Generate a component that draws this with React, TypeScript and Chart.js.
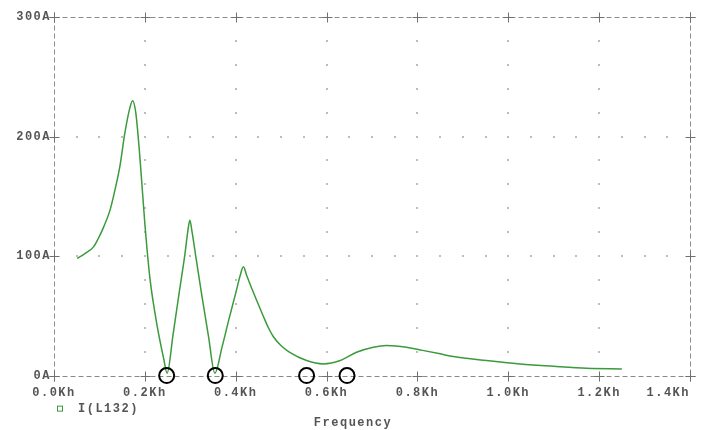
import React, { useEffect, useRef } from 'react';
import { Chart, registerables } from 'chart.js';

Chart.register(...registerables);

// ---- data ----
const freqKHz = [
  0.051, 0.068, 0.087, 0.0975, 0.109, 0.123, 0.134, 0.145, 0.156, 0.167, 0.173, 0.18, 0.189,
  0.2, 0.211, 0.226, 0.241, 0.249, 0.262, 0.275, 0.288, 0.295, 0.299, 0.304, 0.312,
  0.325, 0.34, 0.354, 0.37, 0.385, 0.4, 0.41, 0.417, 0.424, 0.431, 0.446, 0.461,
  0.472, 0.483, 0.5, 0.519, 0.556, 0.593, 0.63, 0.666, 0.703, 0.732, 0.776, 0.806,
  0.85, 0.879, 0.952, 1.026, 1.099, 1.173, 1.25,
];
const currentA = [
  98, 102, 107.7, 114.7, 124, 138, 155, 175, 203, 224, 230, 220, 183,
  127, 82, 44, 15, 2, 34, 68, 101, 122, 130, 120, 100,
  68, 33, 2, 24, 47, 69, 84, 91, 84, 77, 63, 49.5,
  40, 32.5, 25, 19.5, 12.6, 9.8, 12.6, 19.5, 23.7, 25.1, 23.7, 21.5,
  18.2, 15.9, 12.6, 9.8, 7.8, 6.1, 5.6,
];
const circleFreqKHz = [0.248, 0.355, 0.556, 0.645];
const circleCurrentA = [0, 0, 0, 0];
const xTickValues = [0, 0.2, 0.4, 0.6, 0.8, 1.0, 1.2, 1.4];
const yTickValues = [0, 100, 200, 300];
const seriesLabel = 'I(L132)';
const xTitle = 'Frequency';

const LINE_COLOR = '#3b9a3b';
const TEXT_COLOR = '#555555';
const FONT = { family: '"Liberation Mono", "DejaVu Sans Mono", monospace', size: 12, weight: 'bold' as const, lineHeight: 1.2 };

const framePlugin = {
  id: 'pspiceFrame',
  beforeDraw(chart: any) {
    chart.ctx.letterSpacing = '1.5px';
  },
  beforeDatasetsDraw(chart: any) {
    const { ctx, chartArea: a, scales } = chart;
    const xs = scales.x;
    const ys = scales.y;
    ctx.save();
    // dotted interior grid
    ctx.fillStyle = '#bdbdbd';
    const xStep = (xTickValues[1] - xTickValues[0]) / 4;
    const yStep = (yTickValues[1] - yTickValues[0]) / 5;
    for (let i = 1; i < xTickValues.length - 1; i++) {
      const px = Math.round(xs.getPixelForValue(xTickValues[i]));
      for (let v = yTickValues[0] + yStep; v < yTickValues[yTickValues.length - 1] - 1e-9; v += yStep) {
        const py = Math.round(ys.getPixelForValue(v));
        ctx.fillRect(px - 1, py - 1, 2, 2);
      }
    }
    for (let j = 1; j < yTickValues.length - 1; j++) {
      const py = Math.round(ys.getPixelForValue(yTickValues[j]));
      for (let v = xTickValues[0] + xStep; v < xTickValues[xTickValues.length - 1] - 1e-9; v += xStep) {
        const px = Math.round(xs.getPixelForValue(v));
        ctx.fillRect(px - 1, py - 1, 2, 2);
      }
    }
    // dashed frame
    const L = Math.round(a.left) + 0.5;
    const R = Math.round(a.right) + 0.5;
    const T = Math.round(a.top) + 0.5;
    const B = Math.round(a.bottom) + 0.5;
    ctx.strokeStyle = '#8a8a8a';
    ctx.lineWidth = 1;
    ctx.setLineDash([5, 3]);
    ctx.beginPath();
    ctx.moveTo(L, T); ctx.lineTo(R, T);
    ctx.moveTo(L, B); ctx.lineTo(R, B);
    ctx.moveTo(L, T); ctx.lineTo(L, B);
    ctx.moveTo(R, T); ctx.lineTo(R, B);
    ctx.stroke();
    // tick crosses
    ctx.setLineDash([]);
    ctx.strokeStyle = '#707070';
    const arm = 5;
    ctx.beginPath();
    const cross = (x: number, y: number) => {
      ctx.moveTo(x - arm, y); ctx.lineTo(x + arm, y);
      ctx.moveTo(x, y - arm); ctx.lineTo(x, y + arm);
    };
    xTickValues.forEach((v) => {
      const px = Math.round(xs.getPixelForValue(v)) + 0.5;
      cross(px, T); cross(px, B);
    });
    yTickValues.forEach((v) => {
      const py = Math.round(ys.getPixelForValue(v)) + 0.5;
      cross(L, py); cross(R, py);
    });
    ctx.stroke();
    ctx.restore();
  },
};

export default function App() {
  const canvasRef = useRef<HTMLCanvasElement | null>(null);

  useEffect(() => {
    const canvas = canvasRef.current;
    if (!canvas) return;

    const icon = document.createElement('canvas');
    icon.width = 18;
    icon.height = 10;
    const ic = icon.getContext('2d')!;
    ic.strokeStyle = LINE_COLOR;
    ic.lineWidth = 1;
    ic.strokeRect(3.5, 2.5, 5, 5);

    const lineData = freqKHz.map((f, i) => ({ x: f, y: currentA[i] }));
    const circleData = circleFreqKHz.map((f, i) => ({ x: f, y: circleCurrentA[i] }));

    const chart = new Chart(canvas, {
      type: 'line',
      data: {
        datasets: [
          {
            label: seriesLabel,
            data: lineData,
            borderColor: LINE_COLOR,
            borderWidth: 1.5,
            pointRadius: 0,
            fill: false,
            cubicInterpolationMode: 'monotone',
            order: 2,
          },
          {
            label: 'markers',
            data: circleData,
            showLine: false,
            pointStyle: 'circle',
            pointRadius: 7.5,
            pointBorderWidth: 2,
            pointBorderColor: '#000000',
            pointBackgroundColor: 'rgba(0,0,0,0)',
            clip: false as any,
            order: 1,
          },
        ],
      },
      options: {
        animation: false,
        responsive: false,
        devicePixelRatio: 1,
        layout: { padding: { top: 17, right: 0, bottom: 0, left: 0 } },
        scales: {
          x: {
            type: 'linear',
            min: 0,
            max: 1.4,
            grid: { display: false, drawTicks: false },
            border: { display: false },
            afterBuildTicks: (s: any) => {
              s.ticks = xTickValues.map((v) => ({ value: v }));
            },
            afterFit: (s: any) => {
              s.height = 27;
              s.paddingLeft = 0;
              s.paddingRight = 16;
            },
            ticks: {
              autoSkip: false,
              maxRotation: 0,
              minRotation: 0,
              padding: 10,
              color: TEXT_COLOR,
              font: FONT,
              callback: (v: any) => {
                const s = Number(v).toFixed(1) + 'Kh';
                return Math.abs(Number(v) - xTickValues[xTickValues.length - 1]) < 1e-9 ? s + '     ' : s;
              },
            },
          },
          y: {
            type: 'linear',
            min: 0,
            max: 300,
            grid: { display: false, drawTicks: false },
            border: { display: false },
            afterBuildTicks: (s: any) => {
              s.ticks = yTickValues.map((v) => ({ value: v }));
            },
            afterFit: (s: any) => {
              s.width = 54;
            },
            ticks: {
              padding: 3,
              color: TEXT_COLOR,
              font: FONT,
              callback: (v: any) => String(v) + 'A',
            },
          },
        },
        plugins: {
          legend: {
            display: true,
            position: 'bottom',
            align: 'start',
            fullSize: false,
            maxHeight: 13,
            labels: {
              usePointStyle: true,
              pointStyleWidth: 18,
              boxHeight: 8,
              padding: 0,
              color: TEXT_COLOR,
              font: FONT,
              generateLabels: () => [
                {
                  text: seriesLabel,
                  pointStyle: icon as any,
                  fillStyle: 'rgba(0,0,0,0)',
                  strokeStyle: LINE_COLOR,
                  lineWidth: 1,
                  hidden: false,
                  datasetIndex: 0,
                  fontColor: TEXT_COLOR,
                },
              ],
            },
          },
          title: {
            display: true,
            position: 'bottom',
            text: xTitle,
            color: TEXT_COLOR,
            font: FONT,
            padding: { top: 0, bottom: 0 },
          },
          tooltip: { enabled: false },
        },
      },
      plugins: [framePlugin],
    });

    return () => {
      chart.destroy();
    };
  }, []);

  return (
    <div style={{ position: 'fixed', left: 0, top: 0, width: 706, height: 430, background: '#ffffff' }}>
      <canvas ref={canvasRef} width={706} height={430} />
    </div>
  );
}
